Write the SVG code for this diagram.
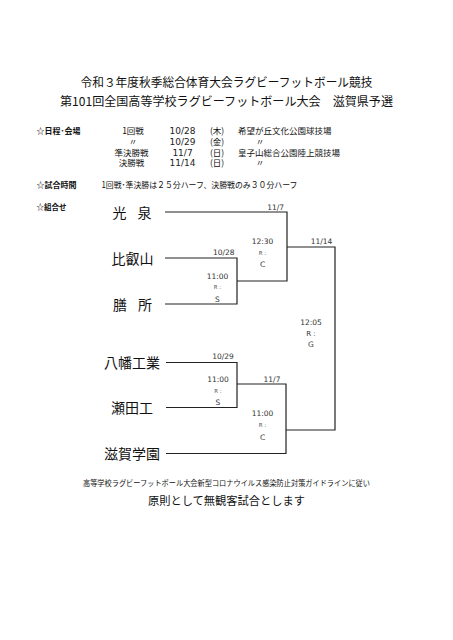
<svg xmlns="http://www.w3.org/2000/svg" width="453" height="640" viewBox="0 0 453 640">
<style>
.jp{font-family:"Noto Sans CJK JP","Noto Sans",sans-serif;fill:#111}
.title{font-size:12px;text-anchor:middle}
.hd{font-size:8px;font-weight:bold}
.sc{font-size:8.5px}
.num{font-family:"DejaVu Sans",sans-serif;font-size:9px;fill:#222}
.team{font-size:14px;text-anchor:middle}
.sp{word-spacing:8px}
.lbl{font-family:"DejaVu Sans",sans-serif;font-size:7.5px;fill:#333}
.r{font-family:"DejaVu Sans",sans-serif;font-size:5.5px;fill:#555;text-anchor:middle}
.mid{text-anchor:middle}
.end{text-anchor:end}
.ln{fill:none;stroke:#222;stroke-width:1.2}
</style>
<rect width="453" height="640" fill="#fff"/>
<g id="header">
<text class="jp title" x="226.5" y="87" textLength="292" lengthAdjust="spacingAndGlyphs">令和３年度秋季総合体育大会ラグビーフットボール競技</text>
<text class="jp title" x="226.5" y="106" textLength="333" lengthAdjust="spacingAndGlyphs">第101回全国高等学校ラグビーフットボール大会　滋賀県予選</text>
</g>
<g id="schedule">
<text class="jp hd" x="36.5" y="133.5">☆日程･会場</text>
<text class="jp sc mid" x="133" y="134">1回戦</text>
<text class="num mid" x="182.5" y="134">10/28</text>
<text class="jp sc mid" x="217" y="134">(木)</text>
<text class="jp sc" x="238" y="134">希望が丘文化公園球技場</text>
<text class="jp sc mid" x="133" y="144.5">〃</text>
<text class="num mid" x="182.5" y="144.5">10/29</text>
<text class="jp sc mid" x="217" y="144.5">(金)</text>
<text class="jp sc mid" x="260" y="144.5">〃</text>
<text class="jp sc mid" x="131.5" y="155.5">準決勝戦</text>
<text class="num mid" x="182.5" y="155.5">11/7</text>
<text class="jp sc mid" x="217" y="155.5">(日)</text>
<text class="jp sc" x="238" y="155.5">皇子山総合公園陸上競技場</text>
<text class="jp sc mid" x="131.5" y="166">決勝戦</text>
<text class="num mid" x="182.5" y="166">11/14</text>
<text class="jp sc mid" x="217" y="166">(日)</text>
<text class="jp sc mid" x="260" y="166">〃</text>
<text class="jp hd" x="36.5" y="187.5">☆試合時間</text>
<text class="jp sc" x="101.5" y="188" textLength="196" lengthAdjust="spacingAndGlyphs">1回戦･準決勝は２５分ハーフ、決勝戦のみ３０分ハーフ</text>
<text class="jp hd" x="36.5" y="209.5" style="font-size:7.5px">☆組合せ</text>
</g>
<g id="connectors">
<path class="ln" d="M165,212 H287 V281 H237"/>
<path class="ln" d="M165,258 H237 V304 H165"/>
<path class="ln" d="M287,247 H335 V430 H286"/>
<path class="ln" d="M166,362.5 H237 V407.5 H166"/>
<path class="ln" d="M237,384 H286 V453.5 H166"/>
</g>
<g id="team-kosen"><text class="jp team sp" x="132" y="218">光 泉</text></g>
<g id="team-hieizan"><text class="jp team" x="132.5" y="263.5">比叡山</text></g>
<g id="team-zeze"><text class="jp team sp" x="132.5" y="309.5">膳 所</text></g>
<g id="team-hachiman"><text class="jp team" x="132" y="367.5">八幡工業</text></g>
<g id="team-setako"><text class="jp team" x="132" y="412.5">瀬田工</text></g>
<g id="team-shigagakuen"><text class="jp team" x="132" y="458.5">滋賀学園</text></g>
<g id="match-1028">
<text class="lbl end" x="234.5" y="255">10/28</text>
<text class="lbl mid" x="217.5" y="278.5">11:00</text>
<text class="r" x="217.5" y="289">R :</text>
<text class="lbl mid" x="217.5" y="302">S</text>
</g>
<g id="match-1029">
<text class="lbl mid" x="223" y="359">10/29</text>
<text class="lbl mid" x="218" y="382">11:00</text>
<text class="r" x="218" y="393">R :</text>
<text class="lbl mid" x="218" y="404.5">S</text>
</g>
<g id="semi-top">
<text class="lbl end" x="284" y="209.5">11/7</text>
<text class="lbl mid" x="262.5" y="244">12:30</text>
<text class="r" x="262.5" y="255">R :</text>
<text class="lbl mid" x="262.5" y="267">C</text>
</g>
<g id="semi-bottom">
<text class="lbl mid" x="272" y="381.5">11/7</text>
<text class="lbl mid" x="262.5" y="415.5">11:00</text>
<text class="r" x="262.5" y="426.5">R :</text>
<text class="lbl mid" x="262.5" y="439.5">C</text>
</g>
<g id="final">
<text class="lbl mid" x="321.5" y="244">11/14</text>
<text class="lbl mid" x="311" y="324.5">12:05</text>
<text class="lbl mid" x="311" y="336" style="font-size:7px">R :</text>
<text class="lbl mid" x="311" y="347">G</text>
</g>
<g id="footer">
<text class="jp mid" x="226.5" y="485.5" style="font-size:7.5px" textLength="287" lengthAdjust="spacingAndGlyphs">高等学校ラグビーフットボール大会新型コロナウイルス感染防止対策ガイドラインに従い</text>
<text class="jp mid" x="226.5" y="505" style="font-size:11.5px" textLength="157" lengthAdjust="spacingAndGlyphs">原則として無観客試合とします</text>
</g>
</svg>
